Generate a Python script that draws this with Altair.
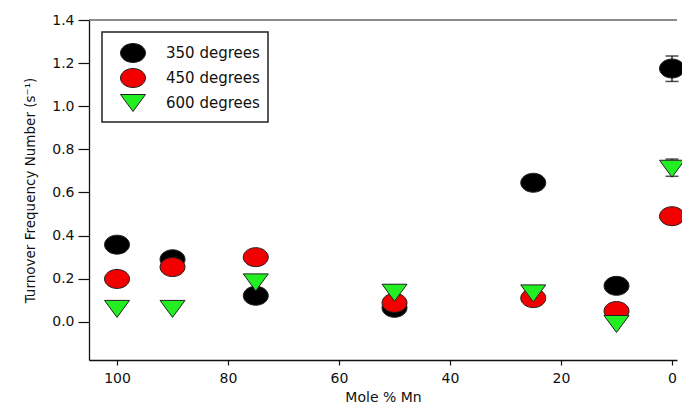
import altair as alt
import pandas as pd

# ---- data ----
mole_mn = [100, 90, 75, 50, 25, 10, 0]
s350 = [0.358, 0.29, 0.121, 0.065, 0.645, 0.167, 1.175]
s450 = [0.199, 0.254, 0.30, 0.088, 0.11, 0.05, 0.49]
s600 = [0.06, 0.06, 0.183, 0.135, 0.132, -0.01, 0.71]
series_names = ["350 degrees", "450 degrees", "600 degrees"]

err_x = [0, 0]
err_lo = [1.115, 0.675]
err_hi = [1.233, 0.755]

x_ticks = [0, 20, 40, 60, 80, 100]
y_ticks = [0.0, 0.2, 0.4, 0.6, 0.8, 1.0, 1.2, 1.4]

rows = []
for name, vals in zip(series_names, [s350, s450, s600]):
    for m, v in zip(mole_mn, vals):
        rows.append({"mole": m, "tof": v, "series": name})
df = pd.DataFrame(rows)
err_df = pd.DataFrame({"mole": err_x, "lo": err_lo, "hi": err_hi})

FONT = "DejaVu Sans"
ellipse = "M -1 0 A 1 0.76 0 1 1 1 0 A 1 0.76 0 1 1 -1 0 Z"
tri_down = "M -1 -0.68 L 1 -0.68 L 0 0.68 Z"

xscale = alt.Scale(domain=[-0.9, 105.05], reverse=True, nice=False, zero=False)
yscale = alt.Scale(domain=[-0.177, 1.4], nice=False, zero=False)

xaxis = alt.Axis(values=x_ticks, title="Mole % Mn", grid=False, tickSize=5,
                 labelPadding=6, titlePadding=5, format="d")
yaxis = alt.Axis(values=y_ticks, title="Turnover Frequency Number (s\u207b\u00b9)",
                 grid=False, tickSize=11, labelPadding=4, titlePadding=14, format=".1f")

err_rule = alt.Chart(err_df).mark_rule(color="black", strokeWidth=1.2).encode(
    x=alt.X("mole:Q", scale=xscale, axis=xaxis),
    y=alt.Y("lo:Q", scale=yscale, axis=yaxis),
    y2="hi:Q",
)
cap_hi = alt.Chart(err_df).mark_tick(color="black", size=13, thickness=1.5,
                                     orient="horizontal").encode(
    x=alt.X("mole:Q", scale=xscale, axis=xaxis),
    y=alt.Y("hi:Q", scale=yscale, axis=yaxis))
cap_lo = alt.Chart(err_df).mark_tick(color="black", size=13, thickness=1.5,
                                     orient="horizontal").encode(
    x=alt.X("mole:Q", scale=xscale, axis=xaxis),
    y=alt.Y("lo:Q", scale=yscale, axis=yaxis))

top_line = alt.Chart(pd.DataFrame({"v": [1.4]})).mark_rule(
    color="#666", strokeWidth=1.5
).encode(y=alt.Y("v:Q", scale=yscale, axis=yaxis))

points = alt.Chart(df).mark_point(
    filled=True, size=625, stroke="#222", strokeWidth=1, opacity=1
).encode(
    x=alt.X("mole:Q", scale=xscale, axis=xaxis),
    y=alt.Y("tof:Q", scale=yscale, axis=yaxis),
    color=alt.Color("series:N",
                    scale=alt.Scale(domain=series_names,
                                    range=["#000000", "#f20000", "#22ee22"]),
                    legend=alt.Legend(title=None, orient="none", legendX=13, legendY=12)),
    shape=alt.Shape("series:N",
                    scale=alt.Scale(domain=series_names,
                                    range=[ellipse, ellipse, tri_down]),
                    legend=alt.Legend(title=None, orient="none", legendX=13, legendY=12)),
    order=alt.Order("idx:Q"),
).transform_window(idx="row_number()")

chart = alt.layer(err_rule, cap_hi, cap_lo, top_line, points).properties(
    width=588, height=340,
    autosize=alt.AutoSizeParams(type="none"),
    padding={"left": 81, "top": 12, "right": 5, "bottom": 46},
).configure_view(stroke=None).configure_axis(
    labelFont=FONT, labelFontSize=14, labelColor="#111",
    titleFont=FONT, titleFontSize=14, titleFontWeight="normal", titleColor="#111",
    domainColor="#111", domainWidth=1.3, tickColor="#111", tickWidth=1.2,
).configure_axisY(titleFontSize=13.5).configure_legend(
    labelFont=FONT, labelFontSize=15, labelColor="#111",
    symbolSize=625, symbolStrokeColor="#222", symbolStrokeWidth=1,
    labelOffset=20, symbolOffset=10, padding=8, rowPadding=0,
    strokeColor="#222", strokeWidth=1.5, fillColor="white",
)

chart.save("out.html", embed_options={"renderer": "svg", "actions": False})
